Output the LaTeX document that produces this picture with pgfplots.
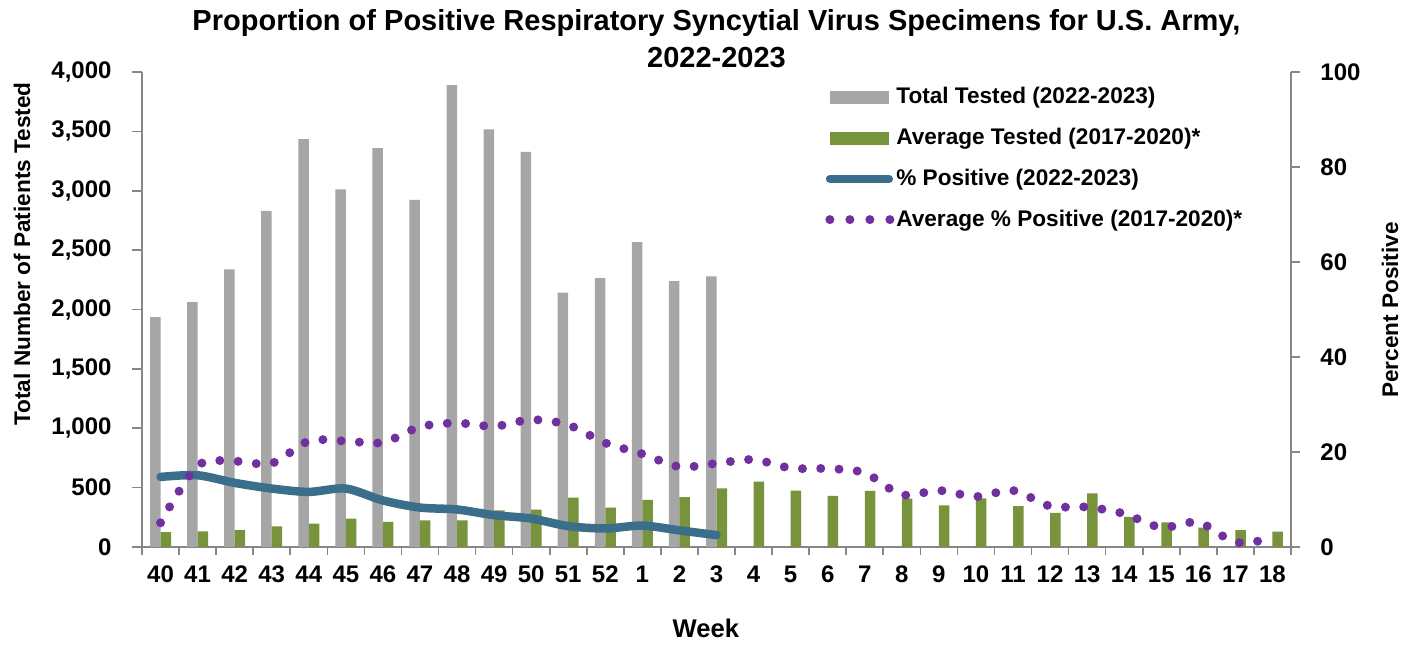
\documentclass[border=0pt]{standalone}
\usepackage{pgfplots}
\pgfplotsset{compat=1.18}
\usepackage{pgfplotstable}
\usepackage{fontspec}
\setmainfont{Liberation Sans}
\definecolor{grayb}{HTML}{A6A6A6}
\definecolor{greenb}{HTML}{77933C}
\definecolor{bluel}{HTML}{3B6E8B}
\definecolor{purp}{HTML}{7030A0}
\definecolor{axisg}{HTML}{868686}

\pgfplotstableread{
x total
0 1935
1 2061
2 2337
3 2831
4 3435
5 3011
6 3359
7 2924
8 3890
9 3516
10 3328
11 2143
12 2264
13 2567
14 2238
15 2279
}\totaltab

\pgfplotstableread{
x avg
0 126
1 131
2 141
3 174
4 197
5 239
6 211
7 225
8 225
9 309
10 315
11 416
12 332
13 396
14 419
15 494
16 551
17 475
18 430
19 472
20 408
21 351
22 410
23 345
24 287
25 452
26 253
27 208
28 163
29 143
30 130
}\avgtab

\pgfplotstableread{
x pos
0 14.75
1 15.1
2 13.5
3 12.3
4 11.6
5 12.3
6 9.8
7 8.3
8 7.9
9 6.7
10 6.0
11 4.4
12 3.9
13 4.5
14 3.5
15 2.5
}\postab

\pgfplotstableread{
x avgpos
0 5.1
1 17.1
2 18.05
3 17.6
4 22.3
5 22.3
6 22.0
7 25.3
8 26.1
9 25.4
10 26.8
11 25.7
12 21.9
13 19.6
14 16.9
15 17.6
16 18.4
17 16.6
18 16.5
19 15.6
20 11.0
21 11.9
22 10.6
23 11.9
24 8.6
25 8.4
26 7.0
27 4.1
28 5.2
29 1.0
30 1.8
}\avgpostab

\begin{document}
\begin{tikzpicture}
\path[use as bounding box] (-71pt,-49.5pt) rectangle (639pt,273.5pt);
\begin{axis}[
  at={(0,0)}, anchor=south west,
  scale only axis, width=574.5pt, height=237.5pt,
  xmin=-0.5, xmax=30.5, ymin=0, ymax=4000,
  ybar=0pt, bar width=5.25pt,
  axis x line*=bottom, axis y line*=left,
  axis line style={axisg, line width=0.8pt, -},
  tick style={axisg, line width=0.8pt},
  tick align=outside,
  xtick={0,...,30},
  xticklabels={40,41,42,43,44,45,46,47,48,49,50,51,52,1,2,3,4,5,6,7,8,9,10,11,12,13,14,15,16,17,18},
  major x tick style={draw=none},
  minor xtick={-0.5,0.5,...,30.5},
  minor tick length=4pt,
  major tick length=5pt,
  ytick={0,500,...,4000},
  tick label style={font=\fontsize{12}{14}\selectfont\bfseries, black},
  xticklabel style={yshift=-1pt},
  yticklabel style={xshift=-6.7pt},
  /pgf/number format/assume math mode=true,
  /pgf/number format/1000 sep={,},
  scaled y ticks=false,
  title={Proportion of Positive Respiratory Syncytial Virus Specimens for U.S. Army,\\2022-2023},
  title style={at={(rel axis cs:0.5,1.122)}, anchor=north, align=center, font=\fontsize{14.5}{18.5}\selectfont\bfseries},
  xlabel={Week},
  xlabel style={at={(rel axis cs:0.4908,-0.1705)}, anchor=center, font=\fontsize{12.8}{15}\selectfont\bfseries},
  ylabel={Total Number of Patients Tested},
  every axis y label/.style={at={(rel axis cs:-0.1044,0.617)}, rotate=90, anchor=center, font=\fontsize{11.3}{13}\selectfont\bfseries},
]
\addplot[fill=grayb, draw=none] table[x=x, y=total] {\totaltab};
\addplot[fill=greenb, draw=none] table[x=x, y=avg] {\avgtab};
\end{axis}
\begin{axis}[
  at={(0,0)}, anchor=south west,
  scale only axis, width=574.5pt, height=237.5pt,
  xmin=-0.5, xmax=30.5, ymin=0, ymax=100,
  axis x line=none, axis y line*=right,
  axis line style={axisg, line width=0.8pt, -},
  tick style={axisg, line width=0.8pt},
  tick align=outside,
  major tick length=4.5pt,
  ytick={0,20,...,100},
  tick label style={font=\fontsize{12}{14}\selectfont\bfseries, black},
  yticklabel style={xshift=6.7pt},
  /pgf/number format/assume math mode=true,
  clip=false,
  ylabel={Percent Positive},
  every axis y label/.style={at={(rel axis cs:1.0862,0.499)}, rotate=90, anchor=center, font=\fontsize{11.3}{13}\selectfont\bfseries},
  legend style={draw=none, fill=none, at={(rel axis cs:0.5944,0.968)}, anchor=north west,
    font=\fontsize{11.3}{13}\selectfont\bfseries, row sep=10.7pt, inner sep=0pt,
    nodes={inner xsep=0pt, inner ysep=0pt, xshift=-1.5pt}},
  legend cell align=left,
]
\addlegendimage{legend image code/.code={\fill[grayb] (2.5pt,-3pt) rectangle (31.5pt,3pt);}}
\addlegendentry{Total Tested (2022-2023)}
\addlegendimage{legend image code/.code={\fill[greenb] (2.5pt,-3pt) rectangle (31.5pt,3pt);}}
\addlegendentry{Average Tested (2017-2020)*}
\addplot[bluel, line width=4.25pt, line cap=round, line join=round, smooth,
  legend image code/.code={\draw[bluel, line width=4.25pt, line cap=round] (2.1pt,0pt) -- (31.5pt,0pt);}]
  table[x=x, y=pos] {\postab};
\addlegendentry{\% Positive (2022-2023)}
\addplot[purp, line width=4.5pt, line cap=round, dash pattern=on 0pt off 9.15pt, smooth,
  legend image code/.code={\draw[purp, line width=4.5pt, line cap=round, dash pattern=on 0pt off 10pt] (2pt,0pt) -- (33pt,0pt);}]
  table[x=x, y=avgpos] {\avgpostab};
\addlegendentry{Average \% Positive (2017-2020)*}
\end{axis}
\end{tikzpicture}
\end{document}
